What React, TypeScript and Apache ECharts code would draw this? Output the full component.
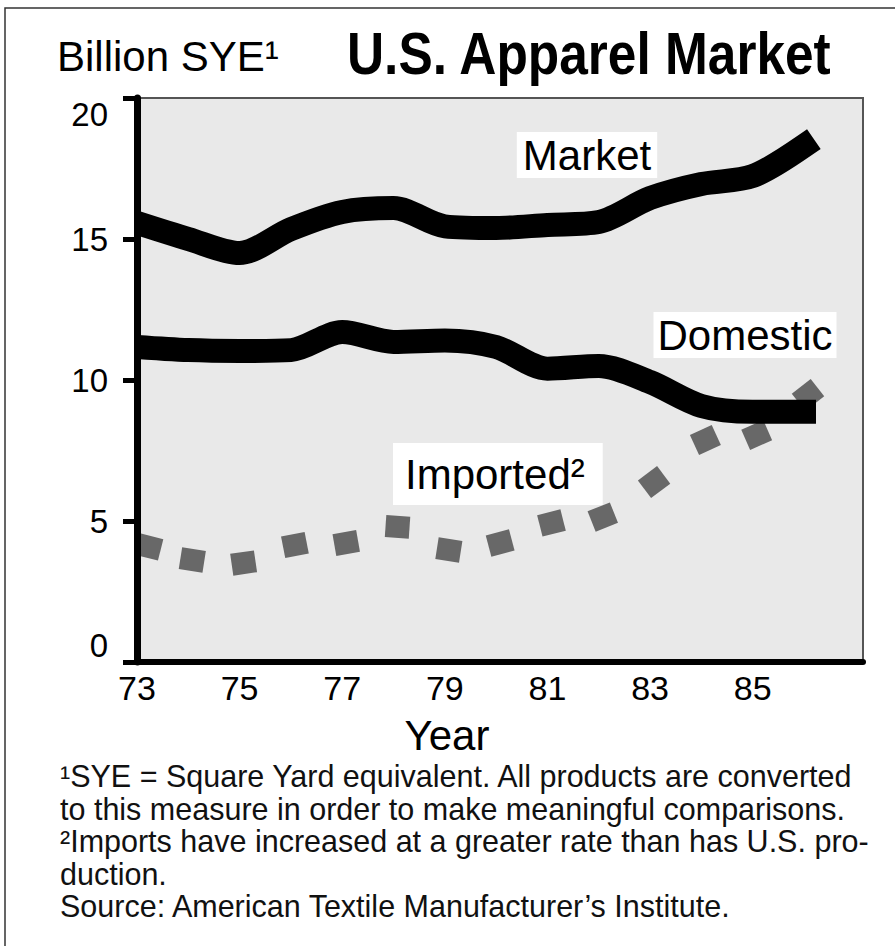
import React, { useEffect, useRef } from "react";
import * as echarts from "echarts";

// ---- Data ----
const YEARS = [73, 74, 75, 76, 77, 78, 79, 80, 81, 82, 83, 84, 85, 86];
const MARKET = [15.57, 15.0, 14.5, 15.35, 15.96, 16.1, 15.45, 15.39, 15.5, 15.6, 16.45, 16.95, 17.23, 18.3];
const DOMESTIC = [11.17, 11.06, 11.03, 11.06, 11.7, 11.35, 11.4, 11.17, 10.4, 10.5, 9.93, 9.08, 8.87, 8.87];
const IMPORTED = [4.08, 3.62, 3.51, 4.15, 4.22, 4.79, 3.97, 4.22, 4.93, 5.14, 6.38, 7.87, 8.05, 9.47];
const X_TICK_LABELS = ["73", "75", "77", "79", "81", "83", "85"];
const Y_TICKS = [0, 5, 10, 15, 20];

const TITLE_UNIT = "Billion SYE¹";
const TITLE_MAIN = "U.S. Apparel Market";
const X_NAME = "Year";
const LABEL_MARKET = "Market";
const LABEL_DOMESTIC = "Domestic";
const LABEL_IMPORTED = "Imported²";
const FOOTNOTE_LINES = [
  "¹SYE = Square Yard equivalent. All products are converted",
  "to this measure in order to make meaningful comparisons.",
  "²Imports have increased at a greater rate than has U.S. pro-",
  "duction.",
  "Source: American Textile Manufacturer’s Institute.",
];

const FONT = '"Liberation Sans", Arial, Helvetica, sans-serif';
const BASE_YEAR = YEARS[0];
const X_MAX = 14.15; // years after base shown on the axis
const Y_MAX = Y_TICKS[Y_TICKS.length - 1];

// grid geometry
const GRID_LEFT = 137;
const GRID_TOP = 98;
const GRID_W = 726;
const GRID_H = 564;

export default function App() {
  const ref = useRef<HTMLDivElement>(null);

  useEffect(() => {
    if (!ref.current) return;
    const chart = echarts.init(ref.current, undefined, { renderer: "svg" });

    const pxPerYear = GRID_W / X_MAX;
    const pxPerUnit = GRID_H / Y_MAX;

    const importedData = IMPORTED.map((v, i) => {
      const p = i > 0 ? i - 1 : i;
      const n = i < IMPORTED.length - 1 ? i + 1 : i;
      const slope = (IMPORTED[n] - IMPORTED[p]) / (n - p);
      const ang = (Math.atan((slope * pxPerUnit) / pxPerYear) * 180) / Math.PI;
      return {
        value: [YEARS[i] - BASE_YEAR, v],
        symbolRotate: ang,
        symbolOffset: i === 0 ? [12, 0] : [4, 0],
      };
    });

    const toXY = (arr: number[]) => arr.map((v, i) => [YEARS[i] - BASE_YEAR, v]);

    const footGraphics = FOOTNOTE_LINES.map((t, i) => ({
      type: "text",
      x: 60,
      y: 776 + i * 32.6,
      z: 10,
      style: {
        text: t,
        font: `30.5px ${FONT}`,
        fill: "#111",
        align: "left",
        verticalAlign: "middle",
      },
    }));

    const option: any = {
      animation: false,
      backgroundColor: "#ffffff",
      grid: {
        left: GRID_LEFT,
        top: GRID_TOP,
        width: GRID_W,
        height: GRID_H,
        show: true,
        backgroundColor: "#e9e9e9",
        borderColor: "#555",
        borderWidth: 2,
      },
      xAxis: {
        type: "value",
        min: 0,
        max: X_MAX,
        interval: 2,
        z: 5,
        axisLine: { show: true, lineStyle: { color: "#000", width: 6 } },
        axisTick: { show: false },
        splitLine: { show: false },
        axisLabel: {
          color: "#000",
          fontSize: 34,
          fontFamily: FONT,
          margin: 9,
          showMaxLabel: false,
          formatter: (v: number) => {
            const idx = Math.round(v / 2);
            return Math.abs(v - idx * 2) < 1e-6 && idx < X_TICK_LABELS.length ? X_TICK_LABELS[idx] : "";
          },
        },
      },
      yAxis: {
        type: "value",
        min: Y_TICKS[0],
        max: Y_MAX,
        interval: 5,
        z: 5,
        axisLine: { show: true, lineStyle: { color: "#000", width: 7 } },
        axisTick: { show: true, length: 14, lineStyle: { color: "#000", width: 5 } },
        splitLine: { show: false },
        axisLabel: {
          color: "#000",
          fontSize: 33,
          fontFamily: FONT,
          margin: 29,
          verticalAlignMinLabel: "bottom",
          verticalAlignMaxLabel: "top",
        },
      },
      series: [
        {
          name: "Imported",
          type: "line",
          data: importedData,
          z: 2,
          showSymbol: true,
          showAllSymbol: true,
          symbol: "rect",
          symbolSize: [24, 22],
          itemStyle: { color: "#686868" },
          lineStyle: { width: 0, opacity: 0 },
          clip: true,
        },
        {
          name: "Domestic",
          type: "line",
          data: toXY(DOMESTIC),
          z: 3,
          smooth: 0.3,
          showSymbol: false,
          lineStyle: { color: "#000", width: 24, cap: "square", join: "round" },
          clip: true,
        },
        {
          name: "Market",
          type: "line",
          data: toXY(MARKET),
          z: 3,
          smooth: 0.3,
          showSymbol: false,
          lineStyle: { color: "#000", width: 24, cap: "square", join: "round" },
          clip: true,
        },
      ],
      graphic: [
        {
          type: "rect",
          z: 0,
          shape: { x: 5, y: 8, width: 910, height: 960 },
          style: { fill: "none", stroke: "#333", lineWidth: 1.5 },
        },
        // white mask hiding the line caps that spill left of the y axis
        {
          type: "rect",
          z: 4,
          shape: { x: 112, y: 190, width: 22, height: 180 },
          style: { fill: "#fff" },
        },
        {
          type: "text",
          x: 57,
          y: 56,
          z: 10,
          style: { text: TITLE_UNIT, font: `42px ${FONT}`, fill: "#000", align: "left", verticalAlign: "middle" },
        },
        {
          type: "text",
          x: 347,
          y: 53,
          z: 10,
          scaleX: 0.857,
          style: { text: TITLE_MAIN, font: `bold 60px ${FONT}`, fill: "#000", align: "left", verticalAlign: "middle" },
        },
        {
          type: "text",
          x: 447,
          y: 735,
          z: 10,
          style: { text: X_NAME, font: `42px ${FONT}`, fill: "#000", align: "center", verticalAlign: "middle" },
        },
        {
          type: "text",
          x: 587,
          y: 155,
          z: 10,
          style: {
            text: LABEL_MARKET,
            font: `42px ${FONT}`,
            fill: "#000",
            align: "center",
            verticalAlign: "middle",
            backgroundColor: "#fff",
            padding: [2, 6],
          },
        },
        {
          type: "text",
          x: 745,
          y: 335,
          z: 10,
          style: {
            text: LABEL_DOMESTIC,
            font: `42px ${FONT}`,
            fill: "#000",
            align: "center",
            verticalAlign: "middle",
            backgroundColor: "#fff",
            padding: [2, 4],
          },
        },
        {
          type: "text",
          x: 393,
          y: 474,
          z: 10,
          style: {
            text: LABEL_IMPORTED,
            font: `42px ${FONT}`,
            fill: "#000",
            align: "left",
            verticalAlign: "middle",
            backgroundColor: "#fff",
            padding: [10, 18, 10, 12],
          },
        },
        ...footGraphics,
      ],
    };

    chart.setOption(option);
    return () => chart.dispose();
  }, []);

  return (
    <div
      ref={ref}
      style={{ position: "absolute", left: 0, top: 0, width: 895, height: 946, background: "#fff" }}
    />
  );
}
